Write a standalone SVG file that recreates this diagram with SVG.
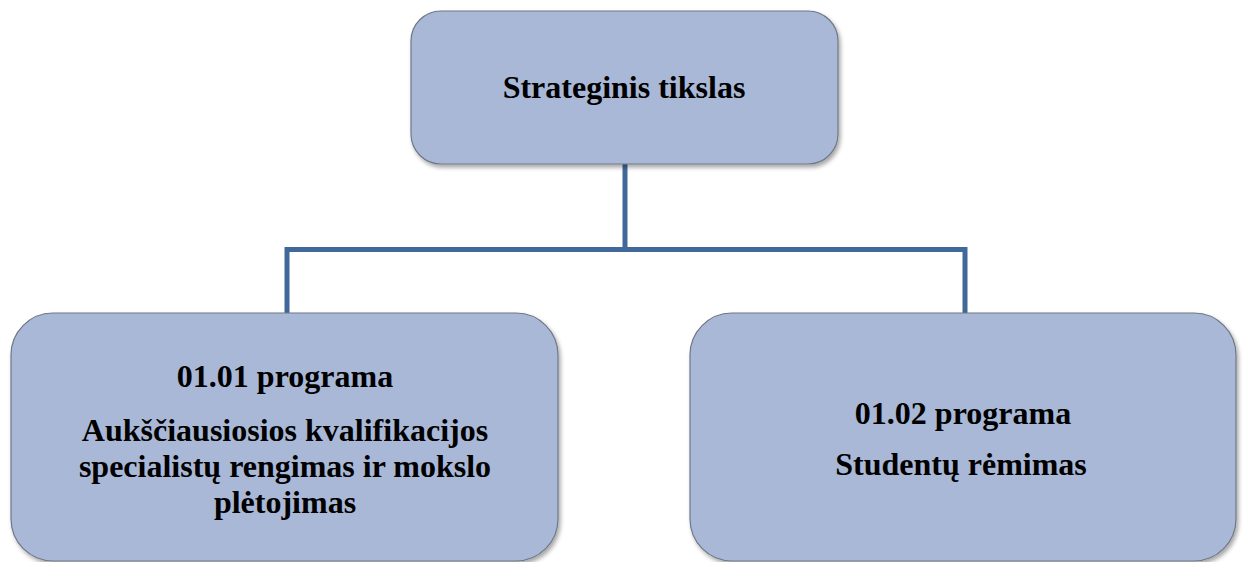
<svg xmlns="http://www.w3.org/2000/svg" width="1243" height="562" viewBox="0 0 1243 562">
<defs>
<filter id="sh" x="-5%" y="-5%" width="115%" height="115%">
<feDropShadow dx="2" dy="3" stdDeviation="2" flood-color="#000" flood-opacity="0.35"/>
</filter>
<style>
.box{fill:#A9B8D6;stroke:#6E7886;stroke-width:1.2;filter:url(#sh)}
.t{font-family:"Liberation Serif","Times New Roman",serif;font-weight:bold;font-size:32px;fill:#000;text-anchor:middle}
.c{fill:none;stroke:#41689A;stroke-width:5;stroke-linejoin:miter}
</style>
</defs>
<rect width="1243" height="562" fill="#fff"/>
<g id="connectors">
<path class="c" d="M625,164 V249.5"/>
<path class="c" d="M287,313 V249.5 H965 V313"/>
</g>
<g id="node-top">
<rect class="box" x="411" y="11" width="427" height="153" rx="30" ry="30"/>
<text class="t" x="624" y="98">Strateginis tikslas</text>
</g>
<g id="node-left">
<rect class="box" x="11" y="313" width="547" height="248" rx="42" ry="42"/>
<text class="t" x="285" y="387">01.01 programa</text>
<text class="t" x="285" y="441">Aukščiausiosios kvalifikacijos</text>
<text class="t" x="285" y="477">specialistų rengimas ir mokslo</text>
<text class="t" x="285" y="513">plėtojimas</text>
</g>
<g id="node-right">
<rect class="box" x="690" y="313" width="546" height="248" rx="42" ry="42"/>
<text class="t" x="963" y="424">01.02 programa</text>
<text class="t" x="961" y="475">Studentų rėmimas</text>
</g>
</svg>
